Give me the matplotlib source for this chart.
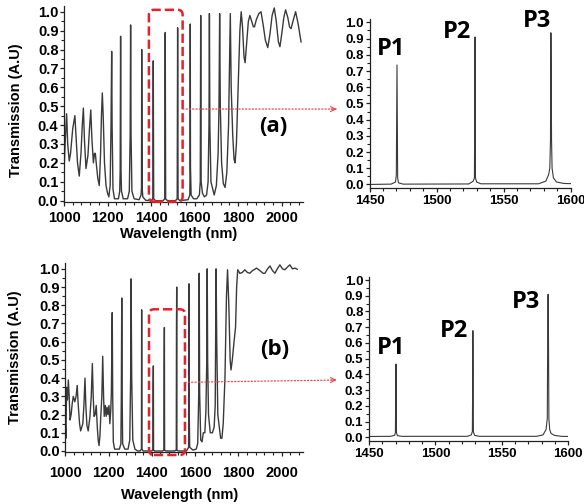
import numpy as np
import matplotlib
matplotlib.use('Agg')
import matplotlib.pyplot as plt
from matplotlib.patches import FancyBboxPatch, ConnectionPatch
from matplotlib.ticker import MultipleLocator, FormatStrFormatter

plt.rcParams['font.family'] = ['Liberation Sans', 'DejaVu Sans']
plt.rcParams['font.weight'] = 'bold'
plt.rcParams['axes.labelweight'] = 'bold'

# full spectrum (a), wavelength in nm and transmission
wl_a = [1000, 1005, 1012, 1017, 1024, 1030, 1040, 1050, 1055, 1062, 1070, 1078, 1084, 1089, 1094,
        1101, 1110, 1117, 1123, 1128, 1135, 1140, 1144, 1148, 1155, 1162, 1168, 1172, 1176, 1180,
        1186, 1193, 1200, 1206, 1212, 1216, 1219, 1221, 1225, 1232, 1245,
        1250, 1256, 1258, 1260, 1262, 1264, 1272,
        1292, 1300, 1304, 1306, 1308, 1312, 1322,
        1345, 1354, 1356, 1357, 1359, 1362, 1375,
        1400, 1408, 1410, 1412, 1420,
        1455, 1463, 1465, 1467, 1475,
        1512, 1520, 1522, 1524, 1532,
        1570, 1578, 1579, 1580, 1581, 1584, 1595,
        1610, 1622, 1626, 1628, 1630, 1636, 1645,
        1655, 1662, 1666, 1668, 1670, 1675, 1690,
        1700, 1708, 1712, 1715, 1718, 1724, 1732, 1740, 1748, 1756, 1760, 1764, 1768, 1775,
        1781, 1786, 1792, 1800, 1808, 1814, 1820, 1827, 1832, 1840, 1847, 1854, 1862, 1870,
        1875, 1884, 1895, 1905, 1915, 1925, 1936, 1946, 1956, 1966, 1975, 1985, 1992, 2000,
        2010, 2018, 2028, 2036, 2043, 2052, 2064, 2075, 2089]
tr_a = [0.15, 0.30, 0.46, 0.30, 0.21, 0.25, 0.38, 0.45, 0.35, 0.20, 0.13, 0.25, 0.40, 0.49, 0.32,
        0.17, 0.24, 0.38, 0.48, 0.33, 0.20, 0.25, 0.25, 0.20, 0.12, 0.08, 0.25, 0.45, 0.57, 0.45,
        0.20, 0.08, 0.04, 0.02, 0.08, 0.40, 0.79, 0.40, 0.06, 0.01, 0.01,
        0.01, 0.05, 0.16, 0.87, 0.16, 0.05, 0.01,
        0.01, 0.05, 0.35, 0.93, 0.35, 0.05, 0.01,
        0.005, 0.03, 0.07, 0.80, 0.07, 0.02, 0.002,
        0.0, 0.01, 0.74, 0.01, 0.0,
        0.0, 0.01, 0.89, 0.01, 0.0,
        0.0, 0.01, 0.915, 0.01, 0.0,
        0.005, 0.03, 0.18, 0.935, 0.18, 0.03, 0.01,
        0.01, 0.03, 0.10, 0.98, 0.10, 0.04, 0.02,
        0.03, 0.10, 0.40, 0.99, 0.40, 0.10, 0.03,
        0.08, 0.25, 0.50, 0.99, 0.50, 0.20, 0.09, 0.07, 0.15, 0.40, 0.70, 0.99, 0.60, 0.35,
        0.22, 0.20, 0.30, 0.60, 0.90, 1.0, 0.92, 0.76, 0.73, 0.85, 0.95, 0.98, 0.95, 0.92,
        0.92, 0.96, 0.99, 1.0, 0.93, 0.85, 0.81, 0.88, 0.98, 1.02, 0.95, 0.84, 0.815, 0.88,
        0.97, 1.01, 0.97, 0.92, 0.91, 0.95, 1.0, 0.94, 0.84]

# full spectrum (b)
wl_b = [1000, 1003, 1006, 1010, 1014, 1018, 1022, 1027, 1032, 1037, 1044, 1050, 1055, 1060, 1066,
        1071, 1076, 1081, 1086, 1091, 1095, 1100, 1106, 1110, 1114, 1120, 1125, 1129, 1133, 1138,
        1143, 1148, 1152, 1156, 1160, 1164, 1169, 1173, 1177, 1180, 1185, 1189, 1193, 1197, 1202,
        1206, 1210, 1213, 1217, 1219, 1222, 1228, 1245,
        1250, 1257, 1259, 1261, 1263, 1265, 1275,
        1290, 1298, 1302, 1304, 1305, 1307, 1312, 1322, 1335,
        1345, 1352, 1353, 1354, 1360,
        1400, 1405, 1406, 1407, 1408, 1412,
        1450, 1456, 1457, 1458, 1459, 1465,
        1505, 1513, 1514, 1515, 1516, 1522,
        1560, 1570, 1571, 1572, 1573, 1575, 1590,
        1605, 1612, 1617, 1619, 1621, 1626, 1632, 1638, 1645, 1650, 1654, 1656, 1658, 1662,
        1670, 1680, 1688, 1693, 1697, 1700, 1705, 1712, 1718, 1724, 1730, 1738, 1745, 1750,
        1756, 1762, 1766, 1772, 1780, 1787, 1792, 1797, 1807, 1818, 1830, 1842, 1853, 1865,
        1884, 1900, 1915, 1923, 1935, 1946, 1958, 1969, 1980, 1992, 2004, 2015, 2027, 2038,
        2050, 2061, 2072]
tr_b = [0.15, 0.07, 0.35, 0.28, 0.39, 0.30, 0.17, 0.20, 0.26, 0.30, 0.27, 0.30, 0.36, 0.25, 0.15,
        0.11, 0.13, 0.15, 0.25, 0.40, 0.25, 0.14, 0.11, 0.15, 0.19, 0.30, 0.48, 0.30, 0.19, 0.20,
        0.25, 0.13, 0.06, 0.03, 0.08, 0.19, 0.30, 0.52, 0.30, 0.19, 0.25, 0.19, 0.24, 0.20, 0.25,
        0.15, 0.22, 0.32, 0.76, 0.32, 0.05, 0.01, 0.01,
        0.01, 0.04, 0.30, 0.84, 0.30, 0.04, 0.01,
        0.01, 0.06, 0.40, 0.945, 0.77, 0.40, 0.06, 0.01, 0.0,
        0.0, 0.01, 0.775, 0.01, 0.0,
        0.0, 0.005, 0.35, 0.467, 0.005, 0.0,
        0.0, 0.005, 0.47, 0.678, 0.005, 0.0,
        0.0, 0.005, 0.68, 0.90, 0.005, 0.0,
        0.0, 0.02, 0.20, 0.918, 0.20, 0.02, 0.005,
        0.01, 0.04, 0.32, 0.976, 0.32, 0.06, 0.05, 0.10, 0.10, 0.22, 0.50, 1.0, 0.50, 0.20,
        0.10, 0.10, 0.13, 0.25, 1.0, 0.60, 0.20, 0.13, 0.07, 0.07, 0.15, 0.40, 0.85, 0.995,
        0.80, 0.50, 0.445, 0.50, 0.60, 0.68, 0.90, 0.995, 0.975, 0.98, 0.995, 0.98, 0.976, 0.99,
        1.004, 0.99, 0.975, 0.976, 1.0, 1.016, 0.99, 0.976, 1.0, 1.022, 1.0, 0.995, 1.01, 1.022,
        1.0, 1.004, 0.998]

# zoomed peaks (a)
wl_pa = [1450, 1466, 1469.3, 1469.9, 1470.4, 1470.9, 1471.5, 1475,
         1524, 1527.3, 1528.2, 1528.5, 1528.6, 1528.8, 1529.0, 1529.9, 1533,
         1576, 1581.5, 1583.6, 1584.5, 1585.0, 1585.3, 1585.5, 1585.8, 1586.2, 1587.2,
         1589.5, 1595, 1600]
tr_pa = [0.0, 0.002, 0.015, 0.06, 0.737, 0.04, 0.01, 0.002,
         0.003, 0.02, 0.04, 0.55, 0.91, 0.55, 0.04, 0.015, 0.004,
         0.004, 0.02, 0.06, 0.10, 0.27, 0.936, 0.71, 0.27, 0.10, 0.04,
         0.015, 0.006, 0.005]

# zoomed peaks (b)
wl_pb = [1450, 1466, 1469.3, 1469.9, 1470.3, 1470.7, 1471.4, 1475,
         1524, 1527.0, 1527.8, 1528.1, 1528.2, 1528.35, 1528.6, 1529.5, 1533,
         1576, 1581.0, 1583.3, 1584.2, 1584.6, 1584.8, 1585.0, 1585.4, 1586.0, 1587.0,
         1589.5, 1595, 1600]
tr_pb = [0.005, 0.006, 0.012, 0.03, 0.466, 0.03, 0.01, 0.006,
         0.006, 0.015, 0.035, 0.40, 0.678, 0.40, 0.035, 0.012, 0.006,
         0.006, 0.015, 0.05, 0.12, 0.79, 0.909, 0.79, 0.12, 0.05, 0.025,
         0.012, 0.006, 0.005]

peak_names = ['P1', 'P2', 'P3']
label_pos_a = [(1466, 0.835), (1515, 0.94), (1575, 1.01)]
label_pos_b = [(1467, 0.566), (1514, 0.678), (1568, 0.862)]

# highlighted window on the full spectra (x0, x1, y0, y1)
box_a = (1390, 1545, -0.005, 1.01)
box_b = (1387, 1553, -0.022, 0.778)

line_col = '#3a3a3a'
red = '#e8202a'
big_font = ['Open Sans', 'Liberation Sans']

fig = plt.figure(figsize=(5.84, 5.04), dpi=100)
ax_a = fig.add_axes([0.1096, 0.600, 0.410, 0.388])
ax_pa = fig.add_axes([0.633, 0.626, 0.344, 0.336])
ax_b = fig.add_axes([0.1118, 0.1034, 0.4075, 0.374])
ax_pb = fig.add_axes([0.6318, 0.1246, 0.3413, 0.326])


def style(ax, xlim, ylim, xmaj, xmin, size, xpad):
    ax.set_xlim(xlim)
    ax.set_ylim(ylim)
    ax.xaxis.set_major_locator(MultipleLocator(xmaj))
    ax.xaxis.set_minor_locator(MultipleLocator(xmin))
    ax.yaxis.set_major_locator(MultipleLocator(0.1))
    ax.yaxis.set_minor_locator(MultipleLocator(0.05))
    ax.yaxis.set_major_formatter(FormatStrFormatter('%.1f'))
    ax.spines['right'].set_visible(False)
    ax.spines['top'].set_visible(False)
    for s in ['left', 'bottom']:
        ax.spines[s].set_linewidth(0.9)
        ax.spines[s].set_color('#222222')
    ax.tick_params(which='major', direction='out', length=3, width=0.9, labelsize=size,
                   color='#222222')
    ax.tick_params(which='minor', direction='out', length=2.2, width=0.8, color='#222222')
    ax.tick_params(axis='x', pad=xpad)
    ax.tick_params(axis='y', pad=1)


ax_a.plot(wl_a, tr_a, color=line_col, lw=1.0)
style(ax_a, (1000, 2100), (-0.005, 1.03), 200, 40, 10.5, 3.5)
ax_a.set_xlabel('Wavelength (nm)', fontsize=10.5)
ax_a.set_ylabel('Transmission (A.U)', fontsize=10.5)
ax_a.xaxis.set_label_coords(0.48, -0.128)
ax_a.yaxis.set_label_coords(-0.172, 0.47)
ax_a.text(1960, 0.39, '(a)', fontsize=16, fontweight='bold', family=big_font,
          ha='center', va='center')

ax_b.plot(wl_b, tr_b, color=line_col, lw=1.0)
style(ax_b, (1000, 2100), (-0.005, 1.03), 200, 40, 10.5, 7)
ax_b.set_xlabel('Wavelength (nm)', fontsize=10.5)
ax_b.set_ylabel('Transmission (A.U)', fontsize=10.5)
ax_b.xaxis.set_label_coords(0.48, -0.19)
ax_b.yaxis.set_label_coords(-0.184, 0.505)
ax_b.text(1969, 0.555, '(b)', fontsize=16, fontweight='bold', family=big_font,
          ha='center', va='center')

ax_pa.plot(wl_pa, tr_pa, color=line_col, lw=0.8)
style(ax_pa, (1450, 1600), (-0.025, 1.02), 50, 10, 9.5, 2)
for name, (x, y) in zip(peak_names, label_pos_a):
    ax_pa.text(x, y, name, fontsize=17, fontweight='bold', family=big_font,
               ha='center', va='center', clip_on=False)

ax_pb.plot(wl_pb, tr_pb, color=line_col, lw=0.8)
style(ax_pb, (1450, 1600), (-0.025, 1.02), 50, 10, 9.5, 2)
for name, (x, y) in zip(peak_names, label_pos_b):
    ax_pb.text(x, y, name, fontsize=17, fontweight='bold', family=big_font,
               ha='center', va='center', clip_on=False)


def window(ax, box, radius):
    p0 = ax.transData.transform((0, 0))
    p1 = ax.transData.transform((1, 1))
    aspect = (p1[0] - p0[0]) / (p1[1] - p0[1])
    x0, x1, y0, y1 = box
    patch = FancyBboxPatch((x0, y0), x1 - x0, y1 - y0,
                           boxstyle='round,pad=0,rounding_size=%g' % radius,
                           mutation_aspect=aspect, fill=False, ec=red, lw=1.8,
                           ls='--', clip_on=False, zorder=5)
    ax.add_patch(patch)


window(ax_a, box_a, 23)
window(ax_b, box_b, 23)


def link(ax_from, xy_from, ax_to, xy_to):
    con = ConnectionPatch(xyA=xy_from, coordsA=ax_from.transData,
                          xyB=xy_to, coordsB=ax_to.transData,
                          arrowstyle='-', color='#f04848', lw=0.9, ls=':')
    fig.add_artist(con)
    ax_to.annotate('', xy=xy_to, xytext=(xy_to[0] - 4, xy_to[1]),
                   arrowprops=dict(arrowstyle='->', color='#f04848', lw=0.8,
                                   mutation_scale=9, shrinkA=0, shrinkB=0),
                   annotation_clip=False)


link(ax_a, (box_a[1], 0.485), ax_pa, (1425.4, 0.465))
link(ax_b, (box_b[1], 0.377), ax_pb, (1425.7, 0.364))

fig.savefig('out.png', dpi=100)
